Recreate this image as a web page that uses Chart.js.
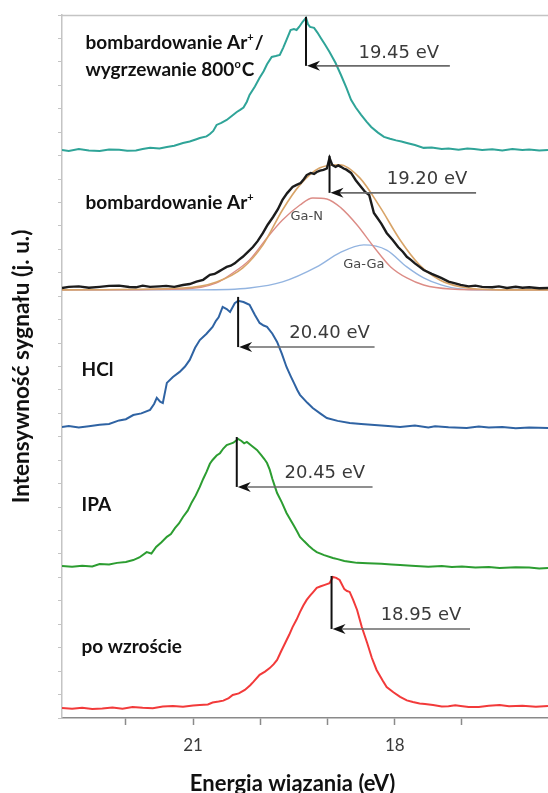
<!DOCTYPE html>
<html>
<head>
<meta charset="utf-8">
<script src="https://cdn.jsdelivr.net/npm/chart.js@4.4.0/dist/chart.umd.min.js"></script>
<style>
  html, body { margin: 0; padding: 0; background: #fff; }
  #wrap { width: 548px; height: 793px; }
</style>
</head>
<body>
<div id="wrap"><canvas id="spectra" width="548" height="793"></canvas></div>
<script>
// [energy eV, stacked intensity a.u.] pairs

// po wzroście
const poWzroscie = [[22.95, .43], [22.8, .40], [22.65, .44], [22.5, .38], [22.35, .41], [22.2, .45], [22.05, .40], [21.9, .47], [21.75, .44], [21.6, .42], [21.45, .49], [21.3, .51], [21.15, .48], [21.0, .53], [20.9, .55], [20.78, .58], [20.71, .66], [20.62, .70], [20.55, .74], [20.47, .85], [20.41, .98], [20.32, 1.05], [20.23, 1.20], [20.15, 1.40], [20.10, 1.55], [20.01, 1.84], [19.93, 1.98], [19.86, 2.13], [19.80, 2.30], [19.75, 2.48], [19.69, 2.85], [19.63, 3.20], [19.57, 3.55], [19.52, 3.88], [19.46, 4.20], [19.41, 4.52], [19.36, 4.80], [19.31, 5.04], [19.26, 5.22], [19.22, 5.35], [19.16, 5.55], [19.10, 5.62], [19.04, 5.68], [18.97, 5.75], [18.92, 6.02], [18.87, 5.98], [18.82, 5.89], [18.75, 5.50], [18.71, 5.42], [18.67, 5.38], [18.62, 5.05], [18.56, 4.61], [18.49, 3.88], [18.41, 3.20], [18.34, 2.56], [18.27, 2.05], [18.18, 1.60], [18.12, 1.32], [18.02, 1.10], [17.92, .90], [17.82, .75], [17.73, .68], [17.63, .62], [17.55, .60], [17.43, .55], [17.3, .49], [17.2, .50], [17.1, .54], [17.02, .51], [16.9, .47], [16.75, .47], [16.6, .52], [16.44, .55], [16.3, .50], [16.1, .52], [15.9, .48], [15.72, .51]];

// IPA
const ipa = [[22.95, 6.49], [22.8, 6.45], [22.65, 6.50], [22.5, 6.47], [22.39, 6.57], [22.25, 6.55], [22.13, 6.62], [22.0, 6.66], [21.89, 6.74], [21.8, 6.85], [21.69, 7.08], [21.62, 7.02], [21.55, 7.30], [21.47, 7.50], [21.39, 7.73], [21.33, 7.85], [21.27, 8.10], [21.21, 8.30], [21.15, 8.58], [21.08, 8.85], [21.02, 9.20], [20.96, 9.50], [20.90, 9.86], [20.85, 10.20], [20.80, 10.50], [20.75, 10.85], [20.71, 11.01], [20.65, 11.20], [20.60, 11.30], [20.55, 11.50], [20.50, 11.65], [20.45, 11.70], [20.40, 11.75], [20.33, 11.91], [20.28, 11.82], [20.24, 11.72], [20.20, 11.78], [20.12, 11.60], [20.05, 11.44], [19.98, 11.20], [19.94, 11.05], [19.90, 10.88], [19.86, 10.60], [19.82, 10.20], [19.78, 9.85], [19.75, 9.60], [19.68, 9.20], [19.61, 8.75], [19.55, 8.45], [19.50, 8.20], [19.45, 7.95], [19.41, 7.73], [19.35, 7.55], [19.28, 7.35], [19.22, 7.20], [19.16, 7.08], [19.05, 6.95], [18.92, 6.83], [18.85, 6.78], [18.75, 6.70], [18.65, 6.66], [18.56, 6.62], [18.4, 6.60], [18.2, 6.58], [18.05, 6.55], [17.92, 6.53], [17.75, 6.50], [17.5, 6.45], [17.3, 6.49], [17.15, 6.44], [17.0, 6.47], [16.8, 6.42], [16.6, 6.44], [16.44, 6.40], [16.2, 6.43], [16.0, 6.42], [15.85, 6.38], [15.72, 6.40]];

// HCl
const hcl = [[22.95, 12.42], [22.85, 12.46], [22.7, 12.40], [22.55, 12.45], [22.39, 12.51], [22.25, 12.55], [22.1, 12.70], [22.0, 12.75], [21.89, 12.93], [21.77, 13.00], [21.64, 13.15], [21.58, 13.40], [21.54, 13.66], [21.49, 13.50], [21.45, 13.44], [21.39, 14.30], [21.30, 14.55], [21.20, 14.77], [21.12, 15.00], [21.05, 15.28], [20.97, 15.80], [20.90, 16.13], [20.80, 16.40], [20.71, 16.69], [20.66, 16.95], [20.62, 17.10], [20.56, 17.54], [20.50, 17.45], [20.45, 17.33], [20.38, 17.70], [20.33, 17.80], [20.25, 17.75], [20.16, 17.63], [20.08, 17.20], [20.01, 16.86], [19.95, 16.75], [19.90, 16.69], [19.82, 16.40], [19.75, 16.05], [19.68, 15.55], [19.61, 14.98], [19.55, 14.60], [19.50, 14.30], [19.45, 14.00], [19.41, 13.79], [19.30, 13.45], [19.22, 13.23], [19.10, 12.98], [19.01, 12.80], [18.85, 12.68], [18.67, 12.59], [18.5, 12.55], [18.3, 12.50], [18.1, 12.46], [17.92, 12.42], [17.7, 12.48], [17.5, 12.40], [17.4, 12.45], [17.2, 12.41], [16.93, 12.38], [16.75, 12.44], [16.6, 12.40], [16.4, 12.42], [16.2, 12.36], [16.0, 12.40], [15.72, 12.38]];

// bombardowanie Ar+ (measured)
const arMeasured = [[22.95, 18.35], [22.85, 18.40], [22.7, 18.42], [22.55, 18.36], [22.39, 18.40], [22.25, 18.44], [22.1, 18.45], [21.95, 18.39], [21.85, 18.38], [21.75, 18.45], [21.64, 18.40], [21.5, 18.42], [21.4, 18.44], [21.28, 18.40], [21.15, 18.48], [21.05, 18.52], [20.95, 18.62], [20.85, 18.70], [20.75, 18.91], [20.68, 18.95], [20.62, 19.05], [20.56, 19.15], [20.50, 19.25], [20.44, 19.30], [20.38, 19.40], [20.32, 19.55], [20.26, 19.68], [20.18, 19.90], [20.11, 20.10], [20.04, 20.35], [19.96, 20.70], [19.89, 21.05], [19.81, 21.38], [19.74, 21.70], [19.67, 22.11], [19.60, 22.40], [19.52, 22.66], [19.46, 22.75], [19.40, 22.83], [19.35, 23.00], [19.31, 23.17], [19.25, 23.26], [19.20, 23.22], [19.16, 23.30], [19.11, 23.36], [19.06, 23.39], [19.01, 23.45], [18.97, 23.90], [18.93, 23.60], [18.88, 23.52], [18.84, 23.58], [18.80, 23.52], [18.76, 23.45], [18.72, 23.40], [18.65, 23.26], [18.58, 22.95], [18.50, 22.66], [18.44, 22.45], [18.38, 22.32], [18.31, 21.55], [18.26, 21.35], [18.20, 21.10], [18.12, 20.70], [18.03, 20.40], [17.95, 20.10], [17.88, 19.90], [17.82, 19.68], [17.76, 19.55], [17.70, 19.40], [17.63, 19.25], [17.57, 19.12], [17.45, 18.95], [17.31, 18.78], [17.2, 18.62], [17.1, 18.55], [17.02, 18.48], [16.9, 18.42], [16.8, 18.45], [16.7, 18.40], [16.55, 18.38], [16.45, 18.42], [16.33, 18.35], [16.2, 18.40], [16.1, 18.36], [16.0, 18.38], [15.85, 18.34], [15.72, 18.35]];

// bombardowanie Ar+ fits: envelope, Ga-N, Ga-Ga
const fitSum = [[22.95, 18.27], [21.15, 18.35], [20.65, 18.61], [20.26, 19.21], [19.96, 20.19], [19.67, 21.68], [19.41, 22.75], [19.12, 23.47], [18.82, 23.61], [18.52, 23.05], [18.22, 21.81], [17.92, 20.40], [17.63, 19.33], [17.33, 18.69], [17.03, 18.40], [16.44, 18.27], [15.72, 18.27]];
const gaN = [[22.95, 18.27], [21.15, 18.31], [20.65, 18.57], [20.41, 18.99], [20.16, 19.55], [19.90, 20.49], [19.67, 21.25], [19.41, 21.89], [19.22, 22.19], [19.01, 22.15], [18.80, 21.77], [18.56, 21.04], [18.31, 20.10], [18.06, 19.25], [17.82, 18.78], [17.57, 18.48], [17.17, 18.31], [16.44, 18.27], [15.72, 18.27]];
const gaGa = [[22.95, 18.27], [20.90, 18.27], [20.16, 18.35], [19.67, 18.61], [19.16, 19.25], [18.82, 19.85], [18.46, 20.19], [18.12, 19.97], [17.82, 19.25], [17.57, 18.78], [17.31, 18.48], [17.02, 18.31], [16.44, 18.27], [15.72, 18.27]];

// bombardowanie Ar+ / wygrzewanie 800oC
const anneal = [[22.95, 24.24], [22.85, 24.20], [22.7, 24.28], [22.55, 24.22], [22.39, 24.20], [22.25, 24.26], [22.1, 24.25], [21.98, 24.21], [21.85, 24.22], [21.75, 24.28], [21.64, 24.33], [21.5, 24.30], [21.39, 24.37], [21.28, 24.42], [21.15, 24.54], [21.05, 24.60], [20.95, 24.70], [20.90, 24.75], [20.80, 24.82], [20.75, 24.92], [20.70, 25.05], [20.65, 25.31], [20.58, 25.40], [20.50, 25.52], [20.42, 25.70], [20.35, 25.86], [20.30, 25.95], [20.25, 26.05], [20.20, 26.30], [20.16, 26.59], [20.08, 26.95], [20.01, 27.32], [19.95, 27.60], [19.90, 27.90], [19.83, 28.21], [19.77, 28.25], [19.71, 28.30], [19.66, 28.60], [19.61, 28.94], [19.55, 29.36], [19.50, 29.40], [19.46, 29.36], [19.42, 29.50], [19.37, 29.71], [19.32, 29.88], [19.29, 29.60], [19.26, 29.49], [19.20, 29.45], [19.15, 29.25], [19.10, 29.02], [19.04, 28.75], [18.97, 28.42], [18.88, 27.95], [18.80, 27.44], [18.72, 26.90], [18.65, 26.38], [18.58, 26.05], [18.50, 25.74], [18.42, 25.45], [18.35, 25.22], [18.25, 24.98], [18.16, 24.80], [18.07, 24.72], [17.98, 24.65], [17.90, 24.60], [17.82, 24.54], [17.7, 24.45], [17.57, 24.33], [17.45, 24.35], [17.3, 24.28], [17.2, 24.30], [17.05, 24.25], [16.92, 24.30], [16.82, 24.28], [16.7, 24.24], [16.55, 24.27], [16.4, 24.22], [16.25, 24.28], [16.1, 24.24], [16.0, 24.26], [15.85, 24.22], [15.72, 24.24]];

// peak markers (top to bottom)
const peakLabels = ['19.45 eV', '19.20 eV', '20.40 eV', '20.45 eV', '18.95 eV'];
const peakE = [19.32, 18.97, 20.33, 20.35, 18.94];
const peakTop = [29.92, 23.99, 17.97, 11.99, 6.06];
const arrowI = [27.83, 22.41, 15.83, 9.86, 3.80];
const arrowEndE = [17.18, 16.79, 18.30, 18.33, 16.88];
const peakLabelE = [17.94, 17.52, 18.97, 19.04, 17.61];
const peakLabelI = [28.38, 23.00, 16.43, 10.46, 4.40];

// sample names, [text, superscript?] parts
const sampleLabels = [
    [['bombardowanie Ar'], ['+', true], ['/']],
    [['wygrzewanie 800'], ['o', true], ['C']],
    [['bombardowanie Ar'], ['+', true]],
    [['HCl']],
    [['IPA']],
    [['po wzroście']]
];
const sampleLabelE = [22.60, 22.60, 22.60, 22.66, 22.66, 22.66];
const sampleLabelI = [28.81, 27.66, 21.98, 14.85, 9.09, 3.03];

const fitLabels = ['Ga-N', 'Ga-Ga'];
const fitLabelE = [19.31, 18.46];
const fitLabelI = [21.38, 19.33];

const xTickValues = [22, 21, 20, 19, 18, 17];
const xTickLabels = [21, 18];
const xTitle = 'Energia wiązania (eV)';
const yTitle = 'Intensywność sygnału (j. u.)';

const colors = {
    anneal: '#2fa498',
    ar: '#1c1c1c',
    fitSum: '#d8a468',
    gaN: '#dc8c86',
    gaGa: '#93b4e0',
    hcl: '#2f63a3',
    ipa: '#2c9d31',
    po: '#f23a3a'
};

const pts = pairs => pairs.map(p => ({ x: p[0], y: p[1] }));

function drawRich(ctx, parts, x, y, size) {
    let cx = x;
    parts.forEach(p => {
        const sup = p[1] === true;
        ctx.font = 'bold ' + (sup ? Math.round(size * 0.6) : size) + 'px Lato';
        ctx.fillText(p[0], cx, sup ? y - size * 0.3 : y);
        cx += ctx.measureText(p[0]).width + (sup ? 1 : 0);
    });
}

const overlay = {
    id: 'overlay',
    afterDatasetsDraw(chart) {
        const ctx = chart.ctx;
        const xs = chart.scales.x, ys = chart.scales.y;
        const area = chart.chartArea;
        ctx.save();

        // top frame line
        ctx.strokeStyle = '#c4c4c4';
        ctx.lineWidth = 1.5;
        ctx.beginPath();
        ctx.moveTo(area.left, area.top + 0.5);
        ctx.lineTo(area.right, area.top + 0.5);
        ctx.stroke();

        // peak markers with arrows
        peakE.forEach((e, i) => {
            const px = xs.getPixelForValue(e);
            const top = ys.getPixelForValue(peakTop[i]);
            const ay = ys.getPixelForValue(arrowI[i]);
            const end = xs.getPixelForValue(arrowEndE[i]);
            ctx.strokeStyle = '#6a6a6a';
            ctx.lineWidth = 1.6;
            ctx.beginPath();
            ctx.moveTo(px + 6, ay);
            ctx.lineTo(end, ay);
            ctx.stroke();
            ctx.strokeStyle = '#111';
            ctx.lineWidth = 2;
            ctx.beginPath();
            ctx.moveTo(px, top);
            ctx.lineTo(px, ay);
            ctx.stroke();
            ctx.fillStyle = '#111';
            ctx.beginPath();
            ctx.moveTo(px + 1, ay);
            ctx.lineTo(px + 14, ay - 5);
            ctx.lineTo(px + 10, ay);
            ctx.lineTo(px + 14, ay + 5);
            ctx.closePath();
            ctx.fill();

            ctx.fillStyle = '#3a3a3a';
            ctx.font = '18px "DejaVu Sans"';
            ctx.textAlign = 'center';
            ctx.textBaseline = 'middle';
            ctx.fillText(peakLabels[i], xs.getPixelForValue(peakLabelE[i]), ys.getPixelForValue(peakLabelI[i]));
        });

        // fit component labels
        ctx.fillStyle = '#4a4a4a';
        ctx.font = '13px "DejaVu Sans"';
        fitLabels.forEach((t, i) => {
            ctx.fillText(t, xs.getPixelForValue(fitLabelE[i]), ys.getPixelForValue(fitLabelI[i]));
        });

        // sample names
        ctx.fillStyle = '#111';
        ctx.textAlign = 'left';
        sampleLabels.forEach((parts, i) => {
            drawRich(ctx, parts, xs.getPixelForValue(sampleLabelE[i]), ys.getPixelForValue(sampleLabelI[i]), 19);
        });

        // axis titles
        ctx.fillStyle = '#111';
        ctx.font = 'bold 22px Lato';
        ctx.textAlign = 'center';
        ctx.textBaseline = 'alphabetic';
        ctx.fillText(xTitle, xs.getPixelForValue(19.52), 791);

        ctx.translate(area.left - 40, (area.top + area.bottom) / 2);
        ctx.rotate(-Math.PI / 2);
        ctx.textBaseline = 'middle';
        ctx.font = 'bold 22.5px Lato';
        ctx.fillText(yTitle, 0, 0);
        ctx.restore();
    }
};

function line(label, data, color, width, fit) {
    return {
        label: label,
        data: data,
        borderColor: color,
        borderWidth: width,
        pointRadius: 0,
        fill: false,
        tension: 0,
        cubicInterpolationMode: fit ? 'monotone' : 'default'
    };
}

new Chart(document.getElementById('spectra'), {
    type: 'line',
    data: {
        datasets: [
            line('bombardowanie Ar+', pts(arMeasured), colors.ar, 2.4, false),
            line('dopasowanie', pts(fitSum), colors.fitSum, 1.6, true),
            line('Ga-N', pts(gaN), colors.gaN, 1.4, true),
            line('Ga-Ga', pts(gaGa), colors.gaGa, 1.4, true),
            line('bombardowanie Ar+/wygrzewanie 800oC', pts(anneal), colors.anneal, 2, false),
            line('HCl', pts(hcl), colors.hcl, 2, false),
            line('IPA', pts(ipa), colors.ipa, 2, false),
            line('po wzroście', pts(poWzroscie), colors.po, 2, false)
        ]
    },
    options: {
        responsive: false,
        animation: false,
        layout: {
            padding: { left: 58, top: 15, right: 0, bottom: 0 }
        },
        plugins: {
            legend: { display: false },
            tooltip: { enabled: false }
        },
        scales: {
            x: {
                type: 'linear',
                reverse: true,
                min: 15.72,
                max: 22.95,
                afterFit: function(scale) { scale.height = 75; },
                afterBuildTicks: function(scale) {
                    scale.ticks = scale.ticks.filter(t => xTickValues.includes(t.value));
                },
                border: { color: '#8a8a8a', width: 1.5 },
                grid: {
                    drawOnChartArea: false,
                    drawTicks: true,
                    tickLength: 7,
                    tickColor: '#8a8a8a',
                    tickWidth: 1.5
                },
                ticks: {
                    stepSize: 1,
                    includeBounds: false,
                    autoSkip: false,
                    maxRotation: 0,
                    padding: 10,
                    color: '#3a3a3a',
                    font: { family: 'Lato', size: 17 },
                    callback: function(value) {
                        return xTickLabels.includes(value) ? String(value) : '';
                    }
                }
            },
            y: {
                type: 'linear',
                min: 0,
                max: 30,
                afterFit: function(scale) { scale.width = 4; },
                border: { color: '#c4c4c4', width: 1.5 },
                grid: {
                    drawOnChartArea: false,
                    drawTicks: true,
                    tickLength: 4,
                    tickColor: '#c4c4c4'
                },
                ticks: {
                    stepSize: 1,
                    display: false
                }
            }
        }
    },
    plugins: [overlay]
});
</script>
</body>
</html>
